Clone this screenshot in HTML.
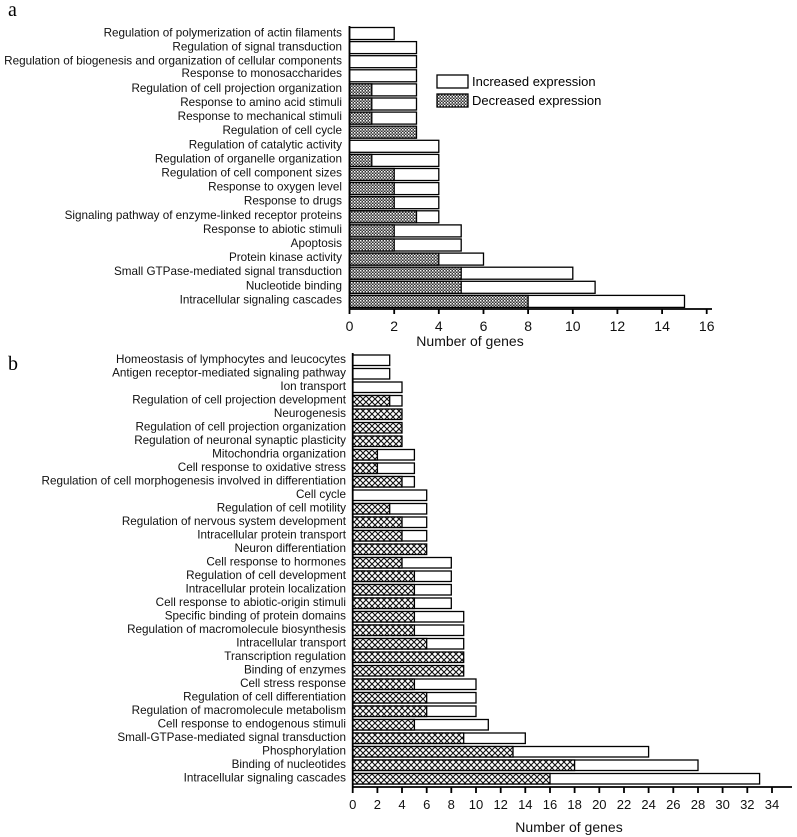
<!DOCTYPE html>
<html><head><meta charset="utf-8"><style>
body{margin:0;background:#fff;}
svg{display:block;font-family:"Liberation Sans",Arial,sans-serif;}
.l{font-size:11.7px;text-anchor:end;fill:#111;}
.t{font-size:14px;text-anchor:middle;fill:#111;}
.tb{font-size:13px;text-anchor:middle;fill:#111;}
.bars rect{stroke:#000;stroke-width:1.3;}
</style></head><body>
<svg width="797" height="837" viewBox="0 0 797 837" xmlns="http://www.w3.org/2000/svg">
<defs>
<pattern id="pa" width="3" height="3" patternUnits="userSpaceOnUse">
<rect x="0" y="0" width="3" height="3" fill="#333"/>
<rect x="0" y="0" width="1.5" height="1.5" fill="#fff"/>
<rect x="1.5" y="1.5" width="1.5" height="1.5" fill="#bbb"/>
</pattern>
<pattern id="pb" width="6" height="6" patternUnits="userSpaceOnUse">
<rect x="0" y="0" width="6" height="6" fill="#fff"/>
<path d="M0,0 L6,6 M6,0 L0,6" stroke="#111" stroke-width="1.1"/>
</pattern>
</defs>
<rect width="797" height="837" fill="#fff"/>
<text x="8" y="16" font-family="Liberation Serif,serif" font-size="20">a</text>
<text x="8" y="370" font-family="Liberation Serif,serif" font-size="20">b</text>

<!-- Panel a -->
<g class="bars">
<text class="l" x="342" y="36.5">Regulation of polymerization of actin filaments</text>
<rect x="349.5" y="27.5" width="44.7" height="12" fill="#fff"/>
<text class="l" x="342" y="50.6">Regulation of signal transduction</text>
<rect x="349.5" y="41.6" width="67" height="12" fill="#fff"/>
<text class="l" x="342" y="64.7">Regulation of biogenesis and organization of cellular components</text>
<rect x="349.5" y="55.7" width="67" height="12" fill="#fff"/>
<text class="l" x="342" y="76.8">Response to monosaccharides</text>
<rect x="349.5" y="69.8" width="67" height="12" fill="#fff"/>
<text class="l" x="342" y="91.9">Regulation of cell projection organization</text>
<rect x="349.5" y="83.9" width="67" height="12" fill="#fff"/><rect x="349.5" y="83.9" width="22.3" height="12" fill="url(#pa)"/>
<text class="l" x="342" y="106">Response to amino acid stimuli</text>
<rect x="349.5" y="98" width="67" height="12" fill="#fff"/><rect x="349.5" y="98" width="22.3" height="12" fill="url(#pa)"/>
<text class="l" x="342" y="120.1">Response to mechanical stimuli</text>
<rect x="349.5" y="112.1" width="67" height="12" fill="#fff"/><rect x="349.5" y="112.1" width="22.3" height="12" fill="url(#pa)"/>
<text class="l" x="342" y="134.2">Regulation of cell cycle</text>
<rect x="349.5" y="126.2" width="67" height="12" fill="url(#pa)"/>
<text class="l" x="342" y="148.3">Regulation of catalytic activity</text>
<rect x="349.5" y="140.3" width="89.3" height="12" fill="#fff"/>
<text class="l" x="342" y="162.4">Regulation of organelle organization</text>
<rect x="349.5" y="154.4" width="89.3" height="12" fill="#fff"/><rect x="349.5" y="154.4" width="22.3" height="12" fill="url(#pa)"/>
<text class="l" x="342" y="176.5">Regulation of cell component sizes</text>
<rect x="349.5" y="168.5" width="89.3" height="12" fill="#fff"/><rect x="349.5" y="168.5" width="44.7" height="12" fill="url(#pa)"/>
<text class="l" x="342" y="190.6">Response to oxygen level</text>
<rect x="349.5" y="182.6" width="89.3" height="12" fill="#fff"/><rect x="349.5" y="182.6" width="44.7" height="12" fill="url(#pa)"/>
<text class="l" x="342" y="204.7">Response to drugs</text>
<rect x="349.5" y="196.7" width="89.3" height="12" fill="#fff"/><rect x="349.5" y="196.7" width="44.7" height="12" fill="url(#pa)"/>
<text class="l" x="342" y="218.8">Signaling pathway of enzyme-linked receptor proteins</text>
<rect x="349.5" y="210.8" width="89.3" height="12" fill="#fff"/><rect x="349.5" y="210.8" width="67" height="12" fill="url(#pa)"/>
<text class="l" x="342" y="232.9">Response to abiotic stimuli</text>
<rect x="349.5" y="224.9" width="111.7" height="12" fill="#fff"/><rect x="349.5" y="224.9" width="44.7" height="12" fill="url(#pa)"/>
<text class="l" x="342" y="247">Apoptosis</text>
<rect x="349.5" y="239" width="111.7" height="12" fill="#fff"/><rect x="349.5" y="239" width="44.7" height="12" fill="url(#pa)"/>
<text class="l" x="342" y="261.1">Protein kinase activity</text>
<rect x="349.5" y="253.1" width="134" height="12" fill="#fff"/><rect x="349.5" y="253.1" width="89.3" height="12" fill="url(#pa)"/>
<text class="l" x="342" y="275.2">Small GTPase-mediated signal transduction</text>
<rect x="349.5" y="267.2" width="223.3" height="12" fill="#fff"/><rect x="349.5" y="267.2" width="111.7" height="12" fill="url(#pa)"/>
<text class="l" x="342" y="289.3">Nucleotide binding</text>
<rect x="349.5" y="281.3" width="245.6" height="12" fill="#fff"/><rect x="349.5" y="281.3" width="111.7" height="12" fill="url(#pa)"/>
<text class="l" x="342" y="303.4">Intracellular signaling cascades</text>
<rect x="349.5" y="295.4" width="335" height="12" fill="#fff"/><rect x="349.5" y="295.4" width="178.6" height="12" fill="url(#pa)"/>

<path d="M349.5,26 V309 M349.5,309 H712 M349.5,309 v5 M394.2,309 v5 M438.8,309 v5 M483.5,309 v5 M528.1,309 v5 M572.8,309 v5 M617.4,309 v5 M662.1,309 v5 M706.7,309 v5" stroke="#000" stroke-width="1.8" fill="none"/>
<text class="t" x="349.5" y="331">0</text><text class="t" x="394.2" y="331">2</text><text class="t" x="438.8" y="331">4</text><text class="t" x="483.5" y="331">6</text><text class="t" x="528.1" y="331">8</text><text class="t" x="572.8" y="331">10</text><text class="t" x="617.4" y="331">12</text><text class="t" x="662.1" y="331">14</text><text class="t" x="706.7" y="331">16</text>
<text class="t" x="470" y="346">Number of genes</text>

<rect x="437" y="75" width="31" height="13" fill="#fff"/>
<rect x="437" y="94" width="31" height="13" fill="url(#pa)"/>
<text x="472" y="86" font-size="13">Increased expression</text>
<text x="472" y="105" font-size="13">Decreased expression</text>
</g>

<!-- Panel b -->
<g class="bars">
<text class="l" x="346" y="363">Homeostasis of lymphocytes and leucocytes</text>
<rect x="352.7" y="355" width="37" height="10.5" fill="#fff"/>
<text class="l" x="346" y="376.5">Antigen receptor-mediated signaling pathway</text>
<rect x="352.7" y="368.5" width="37" height="10.5" fill="#fff"/>
<text class="l" x="346" y="390">Ion transport</text>
<rect x="352.7" y="382" width="49.3" height="10.5" fill="#fff"/>
<text class="l" x="346" y="403.5">Regulation of cell projection development</text>
<rect x="352.7" y="395.5" width="49.3" height="10.5" fill="#fff"/><rect x="352.7" y="395.5" width="37" height="10.5" fill="url(#pb)"/>
<text class="l" x="346" y="417">Neurogenesis</text>
<rect x="352.7" y="409" width="49.3" height="10.5" fill="url(#pb)"/>
<text class="l" x="346" y="430.5">Regulation of cell projection organization</text>
<rect x="352.7" y="422.5" width="49.3" height="10.5" fill="url(#pb)"/>
<text class="l" x="346" y="444">Regulation of neuronal synaptic plasticity</text>
<rect x="352.7" y="436" width="49.3" height="10.5" fill="url(#pb)"/>
<text class="l" x="346" y="457.5">Mitochondria organization</text>
<rect x="352.7" y="449.5" width="61.7" height="10.5" fill="#fff"/><rect x="352.7" y="449.5" width="24.7" height="10.5" fill="url(#pb)"/>
<text class="l" x="346" y="471">Cell response to oxidative stress</text>
<rect x="352.7" y="463" width="61.7" height="10.5" fill="#fff"/><rect x="352.7" y="463" width="24.7" height="10.5" fill="url(#pb)"/>
<text class="l" x="346" y="484.5">Regulation of cell morphogenesis involved in differentiation</text>
<rect x="352.7" y="476.5" width="61.7" height="10.5" fill="#fff"/><rect x="352.7" y="476.5" width="49.3" height="10.5" fill="url(#pb)"/>
<text class="l" x="346" y="498">Cell cycle</text>
<rect x="352.7" y="490" width="74" height="10.5" fill="#fff"/>
<text class="l" x="346" y="511.5">Regulation of cell motility</text>
<rect x="352.7" y="503.5" width="74" height="10.5" fill="#fff"/><rect x="352.7" y="503.5" width="37" height="10.5" fill="url(#pb)"/>
<text class="l" x="346" y="525">Regulation of nervous system development</text>
<rect x="352.7" y="517" width="74" height="10.5" fill="#fff"/><rect x="352.7" y="517" width="49.3" height="10.5" fill="url(#pb)"/>
<text class="l" x="346" y="538.5">Intracellular protein transport</text>
<rect x="352.7" y="530.5" width="74" height="10.5" fill="#fff"/><rect x="352.7" y="530.5" width="49.3" height="10.5" fill="url(#pb)"/>
<text class="l" x="346" y="552">Neuron differentiation</text>
<rect x="352.7" y="544" width="74" height="10.5" fill="url(#pb)"/>
<text class="l" x="346" y="565.5">Cell response to hormones</text>
<rect x="352.7" y="557.5" width="98.6" height="10.5" fill="#fff"/><rect x="352.7" y="557.5" width="49.3" height="10.5" fill="url(#pb)"/>
<text class="l" x="346" y="579">Regulation of cell development</text>
<rect x="352.7" y="571" width="98.6" height="10.5" fill="#fff"/><rect x="352.7" y="571" width="61.7" height="10.5" fill="url(#pb)"/>
<text class="l" x="346" y="592.5">Intracellular protein localization</text>
<rect x="352.7" y="584.5" width="98.6" height="10.5" fill="#fff"/><rect x="352.7" y="584.5" width="61.7" height="10.5" fill="url(#pb)"/>
<text class="l" x="346" y="606">Cell response to abiotic-origin stimuli</text>
<rect x="352.7" y="598" width="98.6" height="10.5" fill="#fff"/><rect x="352.7" y="598" width="61.7" height="10.5" fill="url(#pb)"/>
<text class="l" x="346" y="619.5">Specific binding of protein domains</text>
<rect x="352.7" y="611.5" width="111" height="10.5" fill="#fff"/><rect x="352.7" y="611.5" width="61.7" height="10.5" fill="url(#pb)"/>
<text class="l" x="346" y="633">Regulation of macromolecule biosynthesis</text>
<rect x="352.7" y="625" width="111" height="10.5" fill="#fff"/><rect x="352.7" y="625" width="61.7" height="10.5" fill="url(#pb)"/>
<text class="l" x="346" y="646.5">Intracellular transport</text>
<rect x="352.7" y="638.5" width="111" height="10.5" fill="#fff"/><rect x="352.7" y="638.5" width="74" height="10.5" fill="url(#pb)"/>
<text class="l" x="346" y="660">Transcription regulation</text>
<rect x="352.7" y="652" width="111" height="10.5" fill="url(#pb)"/>
<text class="l" x="346" y="673.5">Binding of enzymes</text>
<rect x="352.7" y="665.5" width="111" height="10.5" fill="url(#pb)"/>
<text class="l" x="346" y="687">Cell stress response</text>
<rect x="352.7" y="679" width="123.3" height="10.5" fill="#fff"/><rect x="352.7" y="679" width="61.7" height="10.5" fill="url(#pb)"/>
<text class="l" x="346" y="700.5">Regulation of cell differentiation</text>
<rect x="352.7" y="692.5" width="123.3" height="10.5" fill="#fff"/><rect x="352.7" y="692.5" width="74" height="10.5" fill="url(#pb)"/>
<text class="l" x="346" y="714">Regulation of macromolecule metabolism</text>
<rect x="352.7" y="706" width="123.3" height="10.5" fill="#fff"/><rect x="352.7" y="706" width="74" height="10.5" fill="url(#pb)"/>
<text class="l" x="346" y="727.5">Cell response to endogenous stimuli</text>
<rect x="352.7" y="719.5" width="135.6" height="10.5" fill="#fff"/><rect x="352.7" y="719.5" width="61.7" height="10.5" fill="url(#pb)"/>
<text class="l" x="346" y="741">Small-GTPase-mediated signal transduction</text>
<rect x="352.7" y="733" width="172.6" height="10.5" fill="#fff"/><rect x="352.7" y="733" width="111" height="10.5" fill="url(#pb)"/>
<text class="l" x="346" y="754.5">Phosphorylation</text>
<rect x="352.7" y="746.5" width="295.9" height="10.5" fill="#fff"/><rect x="352.7" y="746.5" width="160.3" height="10.5" fill="url(#pb)"/>
<text class="l" x="346" y="768">Binding of nucleotides</text>
<rect x="352.7" y="760" width="345.3" height="10.5" fill="#fff"/><rect x="352.7" y="760" width="221.9" height="10.5" fill="url(#pb)"/>
<text class="l" x="346" y="781.5">Intracellular signaling cascades</text>
<rect x="352.7" y="773.5" width="406.9" height="10.5" fill="#fff"/><rect x="352.7" y="773.5" width="197.3" height="10.5" fill="url(#pb)"/>

<path d="M352.7,353 V787 M352.7,787 H792 M352.7,787 v6 M377.4,787 v6 M402,787 v6 M426.7,787 v6 M451.3,787 v6 M476,787 v6 M500.7,787 v6 M525.3,787 v6 M550,787 v6 M574.6,787 v6 M599.3,787 v6 M624,787 v6 M648.6,787 v6 M673.3,787 v6 M698,787 v6 M722.6,787 v6 M747.3,787 v6 M772,787 v6" stroke="#000" stroke-width="1.8" fill="none"/>
<text class="tb" x="352.7" y="809">0</text><text class="tb" x="377.4" y="809">2</text><text class="tb" x="402" y="809">4</text><text class="tb" x="426.7" y="809">6</text><text class="tb" x="451.3" y="809">8</text><text class="tb" x="476" y="809">10</text><text class="tb" x="500.7" y="809">12</text><text class="tb" x="525.3" y="809">14</text><text class="tb" x="550" y="809">16</text><text class="tb" x="574.6" y="809">18</text><text class="tb" x="599.3" y="809">20</text><text class="tb" x="624" y="809">22</text><text class="tb" x="648.6" y="809">24</text><text class="tb" x="673.3" y="809">26</text><text class="tb" x="698" y="809">28</text><text class="tb" x="722.6" y="809">30</text><text class="tb" x="747.3" y="809">32</text><text class="tb" x="772" y="809">34</text>
<text class="t" x="569" y="832">Number of genes</text>
</g>
</svg>
</body></html>
